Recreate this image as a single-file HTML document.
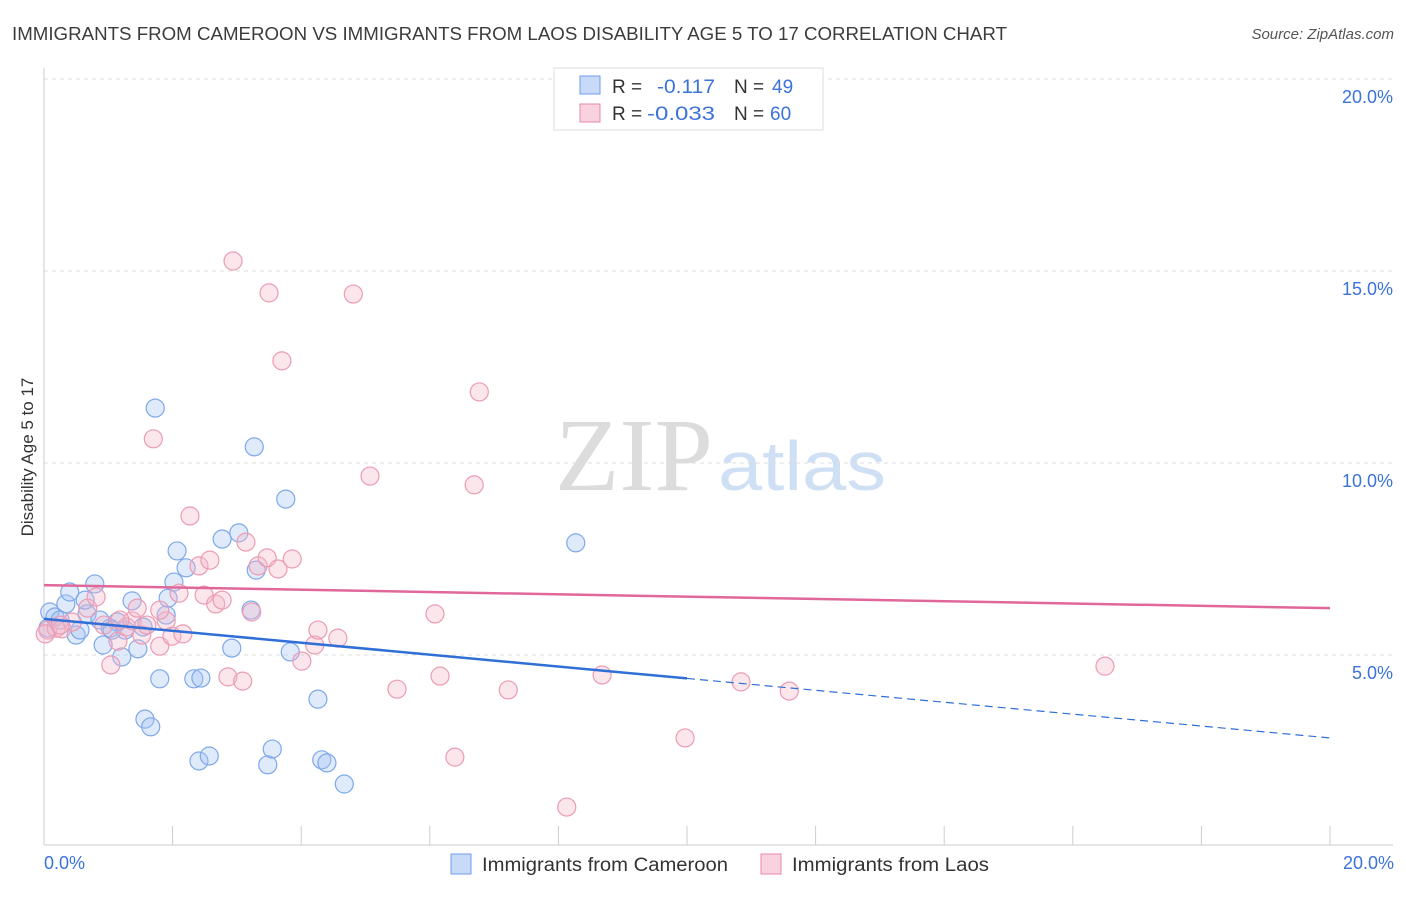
<!DOCTYPE html>
<html><head><meta charset="utf-8"><style>
body{margin:0;background:#fff;font-family:"Liberation Sans",sans-serif;}
</style></head><body>
<svg id="chart" width="1406" height="892" xmlns="http://www.w3.org/2000/svg" font-family="Liberation Sans, sans-serif">
<text x="12" y="40" font-size="18" fill="#3c3c3c" textLength="995" lengthAdjust="spacingAndGlyphs">IMMIGRANTS FROM CAMEROON VS IMMIGRANTS FROM LAOS DISABILITY AGE 5 TO 17 CORRELATION CHART</text>
<text x="1394" y="39" font-size="15" fill="#555" font-style="italic" text-anchor="end">Source: ZipAtlas.com</text>
<g>
<text x="555" y="490" font-size="104" fill="#dcdcdc" style="font-family:'Liberation Serif',serif" textLength="158" lengthAdjust="spacingAndGlyphs">ZIP</text>
<text x="718" y="490" font-size="70" fill="#cfe0f5" textLength="168" lengthAdjust="spacingAndGlyphs">atlas</text>
</g>
<g id="grid"></g>
<g id="axes"></g>
<g id="marks"></g>
<g>
<rect x="554" y="68" width="269" height="62" fill="#fff" stroke="#ddd"/>
<rect x="580" y="76" width="20" height="18" fill="#a4c2f4" fill-opacity="0.6" stroke="#6d9eeb"/>
<rect x="580" y="104" width="20" height="18" fill="#f4b6c9" fill-opacity="0.6" stroke="#e88aa8"/>
<text x="612" y="93" font-size="19" fill="#333">R =</text>
<text x="657" y="93" font-size="19" fill="#3b73d9" textLength="58" lengthAdjust="spacingAndGlyphs">-0.117</text>
<text x="734" y="93" font-size="19" fill="#333">N =</text>
<text x="772" y="93" font-size="19" fill="#3b73d9">49</text>
<text x="612" y="120" font-size="19" fill="#333">R =</text>
<text x="647" y="120" font-size="19" fill="#3b73d9" textLength="68" lengthAdjust="spacingAndGlyphs">-0.033</text>
<text x="734" y="120" font-size="19" fill="#333">N =</text>
<text x="770" y="120" font-size="19" fill="#3b73d9">60</text>
</g>
<text transform="translate(33,457) rotate(-90)" font-size="17" fill="#333" text-anchor="middle">Disability Age 5 to 17</text>
<text x="44" y="869" font-size="18" fill="#3b73d9">0.0%</text>
<text x="1394" y="869" font-size="18" fill="#3b73d9" text-anchor="end">20.0%</text>
<g>
<rect x="451" y="854" width="20" height="20" fill="#a4c2f4" fill-opacity="0.6" stroke="#6d9eeb"/>
<text x="482" y="871" font-size="19" fill="#333" textLength="246" lengthAdjust="spacingAndGlyphs">Immigrants from Cameroon</text>
<rect x="761" y="854" width="20" height="20" fill="#f4b6c9" fill-opacity="0.6" stroke="#e88aa8"/>
<text x="792" y="871" font-size="19" fill="#333" textLength="197" lengthAdjust="spacingAndGlyphs">Immigrants from Laos</text>
</g>
</svg>
<script>
const yTicks=[5,10,15,20];
const yTickLabels=["5.0%","10.0%","15.0%","20.0%"];
const xTicks=[0,2,4,6,8,10,12,14,16,18,20];
const cameroonX=[0.09,0.17,0.06,0.34,0.40,0.50,0.56,0.67,0.79,0.87,0.92,1.03,1.14,1.21,1.26,1.37,1.46,1.54,1.73,1.57,1.66,1.80,1.90,1.93,2.02,2.07,2.21,2.33,2.41,2.44,2.57,2.77,2.92,3.03,3.22,3.27,3.30,3.48,3.55,3.76,3.83,4.26,4.32,4.40,4.67,8.27,0.25,0.64,1.06];
const cameroonY=[6.12,5.99,5.70,6.33,6.64,5.52,5.65,6.07,6.85,5.91,5.26,5.70,5.86,4.95,5.65,6.41,5.16,5.73,11.43,3.33,3.13,4.38,6.04,6.48,6.90,7.71,7.27,4.38,2.24,4.40,2.37,8.02,5.18,8.18,6.17,10.42,7.21,2.14,2.55,9.06,5.08,3.85,2.27,2.19,1.64,7.92,5.91,6.43,5.65];
const laosX=[0.06,0.19,0.28,0.44,0.68,0.81,0.93,1.04,1.15,1.28,1.37,1.45,1.52,1.60,1.70,1.80,1.90,1.99,2.10,2.16,2.27,2.41,2.49,2.58,2.67,2.77,2.86,2.94,3.09,3.14,3.23,3.33,3.47,3.50,3.64,3.70,3.86,4.01,4.21,4.26,4.57,4.81,5.07,5.49,6.08,6.16,6.39,6.69,6.77,7.22,8.13,8.68,9.97,10.84,11.59,16.50,0.25,1.18,1.80,0.02];
const laosY=[5.65,5.70,5.68,5.86,6.22,6.51,5.78,4.74,5.36,5.73,5.89,6.22,5.52,5.78,10.63,5.23,5.89,5.49,6.61,5.55,8.62,7.32,6.56,7.47,6.33,6.43,4.43,15.26,4.32,7.94,6.12,7.32,7.53,14.43,7.24,12.66,7.50,4.84,5.26,5.65,5.44,14.40,9.66,4.11,6.07,4.45,2.34,9.43,11.85,4.09,1.04,4.48,2.84,4.30,4.06,4.71,5.78,5.91,6.17,5.55];
const cameroonTrend=[5.94,2.84];
const laosTrend=[6.82,6.22];
const NS='http://www.w3.org/2000/svg';
const xs=v=>44+v*64.3;
const ys=v=>847-v*38.4;
function mk(tag,attrs,parent){const e=document.createElementNS(NS,tag);for(const k in attrs)e.setAttribute(k,attrs[k]);document.getElementById(parent).appendChild(e);return e;}
yTicks.forEach((t,i)=>{
 const g=mk('line',{x1:44,x2:1393,y1:ys(t),y2:ys(t),stroke:'#ddd','stroke-dasharray':'4,4'},'grid');
 
 
 const l=mk('text',{x:1393,y:ys(t)+24,'font-size':18,fill:'#3b73d9','text-anchor':'end'},'grid');
 l.textContent=yTickLabels[i];
 
 
});
const ya=mk('line',{x1:44,x2:44,y1:68,y2:845,stroke:'#ccc'},'axes');


const xa=mk('line',{x1:44,x2:1393,y1:845,y2:845,stroke:'#ccc'},'axes');


xTicks.forEach(t=>{
 const e=mk('line',{x1:xs(t),x2:xs(t),y1:826,y2:845,stroke:'#ccc'},'axes');
 
 
});
cameroonX.forEach((x,i)=>{
 const c=mk('circle',{cx:xs(x),cy:ys(cameroonY[i]),r:9,fill:'#a4c2f4','fill-opacity':0.35,stroke:'#7ea8ea','stroke-width':1.2},'marks');
 
 
});
laosX.forEach((x,i)=>{
 const c=mk('circle',{cx:xs(x),cy:ys(laosY[i]),r:9,fill:'#f4b6c9','fill-opacity':0.35,stroke:'#ec9bb4','stroke-width':1.2},'marks');
 
 
});
const mid=cameroonTrend[0]+(cameroonTrend[1]-cameroonTrend[0])*0.5;
const t1=mk('line',{x1:xs(0),y1:ys(cameroonTrend[0]),x2:xs(10),y2:ys(mid),stroke:'#2f6fd6','stroke-width':2.5},'marks');


const t2=mk('line',{x1:xs(10),y1:ys(mid),x2:xs(20),y2:ys(cameroonTrend[1]),stroke:'#2f6fd6','stroke-width':1.2,'stroke-dasharray':'8,5'},'marks');


const t3=mk('line',{x1:xs(0),y1:ys(laosTrend[0]),x2:xs(20),y2:ys(laosTrend[1]),stroke:'#e0679a','stroke-width':2.5},'marks');


</script>
</body></html>
